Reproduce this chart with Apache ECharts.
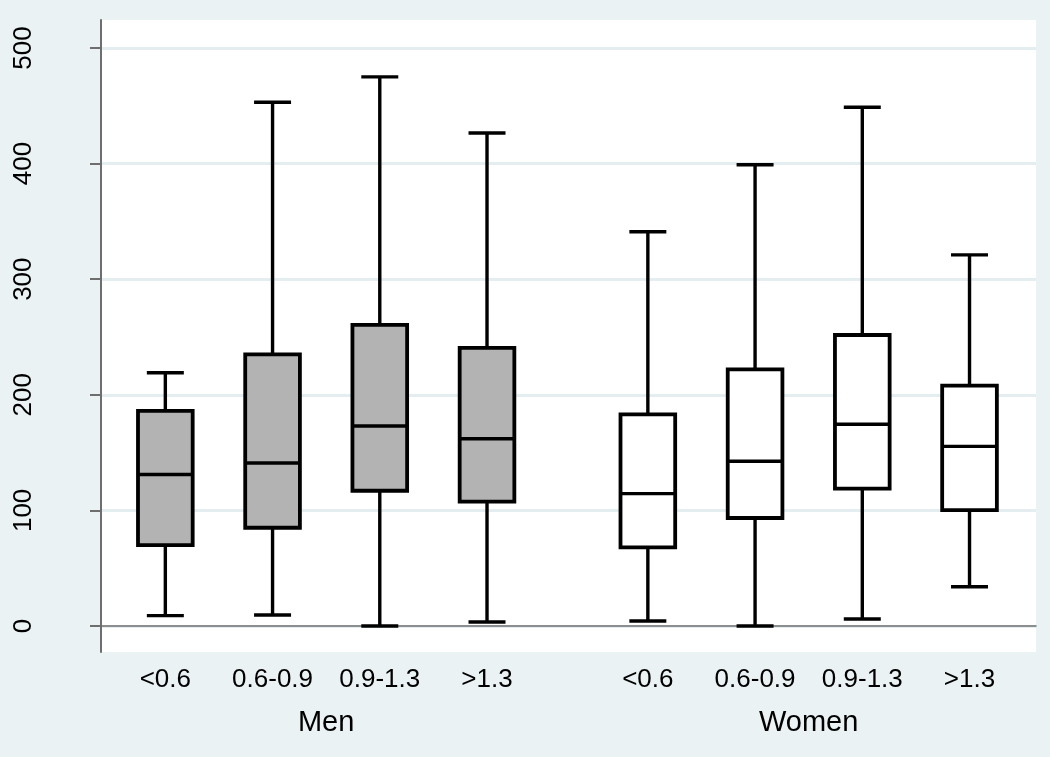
<!DOCTYPE html>
<html>
<head>
<meta charset="utf-8">
<script src="https://cdn.jsdelivr.net/npm/echarts@6/dist/echarts.min.js"></script>
<style>
html,body{margin:0;padding:0;background:#EAF2F3;}
#chart{width:1050px;height:757px;}
</style>
</head>
<body>
<div id="chart"></div>
<script>
// ---- data ----
const groups = ['Men', 'Women'];
const categories = ['<0.6', '0.6-0.9', '0.9-1.3', '>1.3'];
const yTicks = [0, 100, 200, 300, 400, 500];

const menMin    = [9, 9.5, 0, 3.5];
const menQ1     = [70, 85, 117, 107.5];
const menMedian = [131, 141, 173, 162];
const menQ3     = [186, 235, 260.4, 240.5];
const menMax    = [219, 453, 475, 426.5];

const womenMin    = [4.3, 0, 6, 34];
const womenQ1     = [68, 93.4, 118.8, 100.3];
const womenMedian = [114.5, 142.5, 174.5, 155.4];
const womenQ3     = [183, 222, 251.7, 208];
const womenMax    = [341, 399, 448.7, 321];

// ---- layout helpers ----
const GROUP_STEP = categories.length + 0.5; // half-slot gap between groups
function xPos(g, i) { return g * GROUP_STEP + i + 1; }

function buildData(g, mn, q1, md, q3, mx) {
  return categories.map((c, i) => [xPos(g, i), mn[i], q1[i], md[i], q3[i], mx[i]]);
}
const menData = buildData(0, menMin, menQ1, menMedian, menQ3, menMax);
const womenData = buildData(1, womenMin, womenQ1, womenMedian, womenQ3, womenMax);

const labelMap = {};
const labelValues = [];
groups.forEach((g, gi) => categories.forEach((c, i) => {
  const v = xPos(gi, i);
  labelMap[v] = c;
  labelValues.push(v);
}));
const groupMap = {};
const groupValues = groups.map((g, gi) => {
  const v = (xPos(gi, 0) + xPos(gi, categories.length - 1)) / 2;
  groupMap[v] = g;
  return v;
});

const FONT = 'Liberation Sans, Arial, sans-serif';
const AXIS_COLOR = '#6E6E6E';
const X_MIN = 0.4, X_MAX = 9.12;
const Y_MIN = -22.5, Y_MAX = 524.2;

function makeRender(fill) {
  return function (params, api) {
    const x = api.value(0);
    const lo = api.coord([x, api.value(1)]);
    const q1 = api.coord([x, api.value(2)]);
    const md = api.coord([x, api.value(3)]);
    const q3 = api.coord([x, api.value(4)]);
    const hi = api.coord([x, api.value(5)]);
    const unit = api.size([1, 0])[0];
    const bw = unit * 0.51;
    const cw = unit * 0.345;
    const cx = lo[0];
    const ls = { stroke: '#000', lineWidth: 3.4, fill: null };
    return {
      type: 'group',
      children: [
        { type: 'line', shape: { x1: cx, y1: hi[1], x2: cx, y2: q3[1] }, style: ls },
        { type: 'line', shape: { x1: cx, y1: q1[1], x2: cx, y2: lo[1] }, style: ls },
        { type: 'line', shape: { x1: cx - cw / 2, y1: hi[1], x2: cx + cw / 2, y2: hi[1] }, style: ls },
        { type: 'line', shape: { x1: cx - cw / 2, y1: lo[1], x2: cx + cw / 2, y2: lo[1] }, style: ls },
        { type: 'rect', shape: { x: cx - bw / 2, y: q3[1], width: bw, height: q1[1] - q3[1] },
          style: { fill: fill, stroke: '#000', lineWidth: 3.8 } },
        { type: 'line', shape: { x1: cx - bw / 2, y1: md[1], x2: cx + bw / 2, y2: md[1] }, style: ls }
      ]
    };
  };
}

const chart = echarts.init(document.getElementById('chart'), null, { renderer: 'canvas' });
chart.setOption({
  backgroundColor: '#EAF2F3',
  animation: false,
  textStyle: { fontFamily: FONT },
  grid: [
    { left: 101, right: 14, top: 20, bottom: 105, show: true, backgroundColor: '#FFFFFF', borderWidth: 0 },
    { left: 101, right: 14, top: 20, bottom: 105, show: false }
  ],
  xAxis: [
    {
      type: 'value', gridIndex: 0, min: X_MIN, max: X_MAX,
      axisLine: { show: true, lineStyle: { color: AXIS_COLOR, width: 1.5 } },
      axisTick: { show: false },
      splitLine: { show: false },
      axisLabel: {
        customValues: labelValues,
        formatter: v => labelMap[v] || '',
        fontSize: 26, color: '#000', margin: 15, fontFamily: FONT
      }
    },
    {
      type: 'value', gridIndex: 1, min: X_MIN, max: X_MAX, position: 'bottom',
      axisLine: { show: false }, axisTick: { show: false }, splitLine: { show: false },
      axisLabel: {
        customValues: groupValues,
        formatter: v => groupMap[v] || '',
        fontSize: 29, color: '#000', margin: 56, fontFamily: FONT
      }
    }
  ],
  yAxis: [
    {
      type: 'value', gridIndex: 0, min: Y_MIN, max: Y_MAX,
      axisLine: { show: true, lineStyle: { color: AXIS_COLOR, width: 2 } },
      axisTick: { show: true, customValues: yTicks, length: 11, lineStyle: { color: AXIS_COLOR, width: 2 } },
      axisLabel: {
        customValues: yTicks, rotate: 90, fontSize: 26, color: '#000', margin: 64, fontFamily: FONT
      },
      splitLine: { show: true, lineStyle: { color: '#E4EEF0', width: 3 } }
    },
    {
      type: 'value', gridIndex: 1, min: Y_MIN, max: Y_MAX, show: false
    }
  ],
  series: [
    { name: groups[0], type: 'custom', xAxisIndex: 0, yAxisIndex: 0, renderItem: makeRender('#B3B3B3'), data: menData },
    { name: groups[1], type: 'custom', xAxisIndex: 0, yAxisIndex: 0, renderItem: makeRender('#FFFFFF'), data: womenData }
  ]
});
</script>
</body>
</html>
